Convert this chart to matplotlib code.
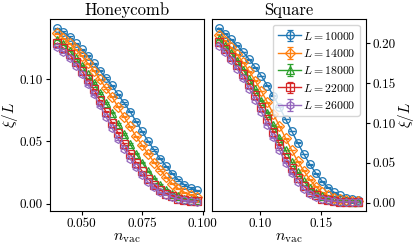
import numpy as np
import matplotlib
matplotlib.use("Agg")
import matplotlib.pyplot as plt
from matplotlib.ticker import FormatStrFormatter

plt.rcParams["font.family"] = "serif"
plt.rcParams["font.serif"] = ["cmr10"]
plt.rcParams["mathtext.fontset"] = "cm"
plt.rcParams["axes.formatter.use_mathtext"] = True

# system sizes
sizes = [10000, 14000, 18000, 22000, 26000]
markers = ["o", "D", "^", "s", "h"]
colors = ["tab:blue", "tab:orange", "tab:green", "tab:red", "tab:purple"]

# Honeycomb lattice
n_honey = [0.0400, 0.0425, 0.0450, 0.0475, 0.0500, 0.0525, 0.0550, 0.0575,
           0.0600, 0.0625, 0.0650, 0.0675, 0.0700, 0.0725, 0.0750, 0.0775,
           0.0800, 0.0825, 0.0850, 0.0875, 0.0900, 0.0925, 0.0950, 0.0975]
xi_honey = [
    [.141, .138, .134, .129, .124, .119, .113, .107, .101, .095, .088, .081,
     .074, .066, .058, .050, .043, .036, .030, .024, .019, .015, .0125, .0105],
    [.137, .133, .129, .124, .119, .113, .107, .100, .093, .086, .078, .070,
     .062, .054, .047, .040, .033, .027, .021, .016, .012, .009, .007, .005],
    [.132, .128, .123, .117, .111, .104, .097, .089, .081, .073, .064, .056,
     .048, .040, .033, .026, .020, .015, .011, .008, .006, .004, .003, .0025],
    [.129, .125, .120, .114, .107, .100, .092, .083, .074, .065, .057, .048,
     .040, .033, .026, .020, .015, .011, .008, .006, .004, .003, .002, .002],
    [.126, .122, .117, .111, .104, .096, .088, .079, .070, .061, .052, .044,
     .036, .029, .023, .017, .013, .009, .007, .005, .0035, .0025, .002, .0015],
]

# Square lattice
n_square = [0.066, 0.071, 0.076, 0.081, 0.086, 0.091, 0.096, 0.101,
            0.106, 0.111, 0.116, 0.121, 0.126, 0.131, 0.136, 0.141,
            0.146, 0.151, 0.156, 0.161, 0.166, 0.171, 0.176, 0.181]
xi_square = [
    [.219, .212, .205, .197, .189, .180, .170, .159, .147, .134, .120, .105,
     .090, .075, .061, .048, .037, .027, .019, .013, .009, .006, .004, .003],
    [.211, .203, .195, .186, .176, .165, .153, .140, .126, .111, .096, .081,
     .066, .052, .040, .029, .020, .013, .009, .006, .004, .003, .002, .002],
    [.205, .197, .188, .178, .167, .155, .142, .128, .113, .097, .081, .066,
     .051, .038, .027, .018, .012, .008, .005, .003, .002, .002, .001, .001],
    [.201, .193, .183, .173, .161, .149, .135, .120, .105, .089, .073, .057,
     .043, .031, .021, .014, .009, .005, .003, .002, .001, .001, .001, .001],
    [.197, .189, .179, .168, .156, .143, .129, .114, .098, .082, .066, .050,
     .037, .026, .017, .011, .007, .004, .003, .002, .001, .001, .001, .001],
]
err = 0.0005

fig = plt.figure(figsize=(4.16, 2.5), dpi=100)
ax1 = fig.add_axes([0.120, 0.156, 0.370, 0.768])
ax2 = fig.add_axes([0.509, 0.156, 0.370, 0.768])

for ax, xs, ys in [(ax1, n_honey, xi_honey), (ax2, n_square, xi_square)]:
    for i in range(len(sizes)):
        ax.errorbar(xs, ys[i], yerr=err, marker=markers[i], color=colors[i],
                    mfc="none", ms=5.5, lw=1, mew=0.9, capsize=2,
                    label=rf"$L = {sizes[i]}$")
    ax.set_xlabel(r"$n_{\rm vac}$", fontsize=11.5, labelpad=1)
    ax.tick_params(labelsize=9.5, length=3, pad=2)

ax1.set_title("Honeycomb", fontsize=12, pad=3)
ax2.set_title("Square", fontsize=12, pad=3)
ax1.set_xticks([0.050, 0.075, 0.100])
ax1.set_yticks([0.00, 0.05, 0.10])
ax2.set_xticks([0.10, 0.15])
ax2.set_yticks([0.00, 0.05, 0.10, 0.15, 0.20])
ax1.yaxis.set_major_formatter(FormatStrFormatter("%.2f"))
ax1.xaxis.set_major_formatter(FormatStrFormatter("%.3f"))
ax2.xaxis.set_major_formatter(FormatStrFormatter("%.2f"))
ax2.yaxis.set_major_formatter(FormatStrFormatter("%.2f"))
ax2.yaxis.tick_right()
ax2.yaxis.set_label_position("right")
ax1.set_ylabel(r"$\xi/L$", fontsize=11)
ax2.set_ylabel(r"$\xi/L$", fontsize=11)
ax1.yaxis.set_label_coords(-0.195, 0.5)
ax2.yaxis.set_label_coords(1.2, 0.5)
ax1.set_xlim(0.0369, 0.1005)
ax2.set_xlim(0.0602, 0.187)

ax2.legend(loc="upper right", fontsize=8.5, handlelength=2.0,
           handletextpad=0.1, borderpad=0.4, labelspacing=0.45,
           borderaxespad=0.5)

fig.savefig("out.png", dpi=100)
